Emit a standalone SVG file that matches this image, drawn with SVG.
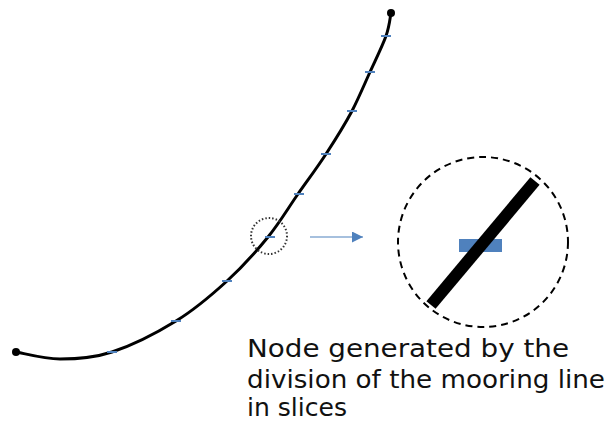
<svg xmlns="http://www.w3.org/2000/svg" width="610" height="430" viewBox="0 0 610 430">
<style>
.line{fill:none;stroke:#000;stroke-width:3;stroke-linecap:round}
.tick{stroke:#4f81bd;stroke-width:2}
.lbl{font-family:"DejaVu Sans","Liberation Sans",sans-serif;font-size:24px;fill:#111}
</style>
<defs>
<marker id="ah" viewBox="0 0 10 10" refX="10" refY="5" markerWidth="11" markerHeight="11" markerUnits="userSpaceOnUse" orient="auto">
<path d="M0,0 L10,5 L0,10 Z" fill="#4f81bd"/>
</marker>
</defs>
<rect width="610" height="430" fill="#fff"/>
<g id="mooring-line">
<path class="line" d="M16,352 C23.3,353.2 44,359 60,359 C76,359 92.7,358.3 112,352 C131.3,345.7 156.8,332.8 176,321 C195.2,309.2 211.7,295 227,281 C242.3,267 256.2,251.5 268,237 C279.8,222.5 288.3,207.8 298,194 C307.7,180.2 317,167.8 326,154 C335,140.2 344.7,124.7 352,111 C359,97.3 364.3,84.5 370,72 C375.7,59.5 382.5,45.8 386,36 C389.5,26.2 390.2,16.8 391,13"/>
<circle cx="16" cy="352" r="4" fill="#000"/>
<circle cx="391" cy="13" r="4" fill="#000"/>
</g>
<g id="slice-nodes">
<line class="tick" x1="381" y1="36" x2="391" y2="36"/>
<line class="tick" x1="365" y1="72" x2="375" y2="72"/>
<line class="tick" x1="347" y1="111" x2="357" y2="111"/>
<line class="tick" x1="321" y1="154" x2="331" y2="154"/>
<line class="tick" x1="294" y1="194" x2="304" y2="194"/>
<line class="tick" x1="265" y1="237" x2="275" y2="237"/>
<line class="tick" x1="222" y1="281" x2="232" y2="281"/>
<line class="tick" x1="171" y1="321" x2="181" y2="321"/>
<line class="tick" x1="107" y1="352" x2="117" y2="352"/>
</g>
<g id="focus-circle">
<circle cx="269" cy="236" r="18" fill="none" stroke="#333" stroke-width="2" stroke-dasharray="1.5 2"/>
</g>
<g id="connectors">
<line x1="310" y1="237" x2="363" y2="237" stroke="#4f81bd" stroke-width="1.2" marker-end="url(#ah)"/>
</g>
<g id="zoom-detail">
<circle cx="483" cy="242" r="85" fill="none" stroke="#000" stroke-width="2" stroke-dasharray="7 5"/>
<rect x="459" y="239" width="43" height="13" fill="#4f81bd"/>
<line x1="431" y1="305" x2="535" y2="181" stroke="#000" stroke-width="12"/>
</g>
<g id="caption">
<text class="lbl" x="247" y="357" textLength="322" lengthAdjust="spacingAndGlyphs">Node generated by the</text>
<text class="lbl" x="247" y="388" textLength="358" lengthAdjust="spacingAndGlyphs">division of the mooring line</text>
<text class="lbl" x="247" y="416" textLength="100" lengthAdjust="spacingAndGlyphs">in slices</text>
</g>
</svg>
